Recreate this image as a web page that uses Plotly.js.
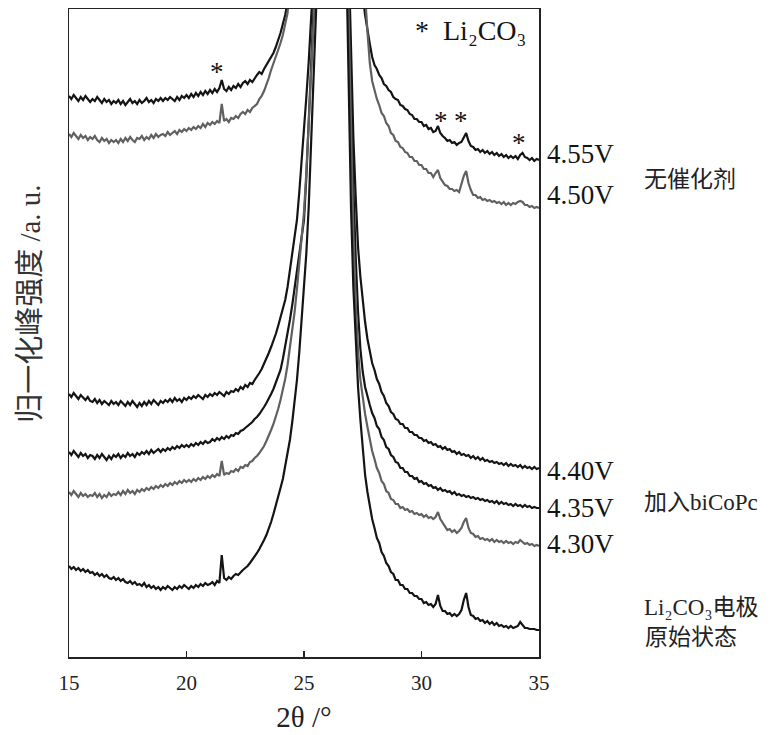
<!DOCTYPE html>
<html>
<head>
<meta charset="utf-8">
<script src="https://cdn.plot.ly/plotly-3.0.1.min.js"></script>
<style>html,body{margin:0;padding:0;background:#fff;}#chart{width:770px;height:735px;}</style>
</head>
<body>
<div id="chart"></div>
<script>
// 2θ (°) sampling grid
const twoTheta = [
15.0,15.1,15.2,15.3,15.4,15.5,15.6,15.7,15.8,15.9,
16.0,16.1,16.2,16.3,16.4,16.5,16.6,16.7,16.8,16.9,
17.0,17.1,17.2,17.3,17.4,17.5,17.6,17.7,17.8,17.9,
18.0,18.1,18.2,18.3,18.4,18.5,18.6,18.7,18.8,18.9,
19.0,19.1,19.2,19.3,19.4,19.5,19.6,19.7,19.8,19.9,
20.0,20.1,20.2,20.3,20.4,20.5,20.6,20.7,20.8,20.9,
21.0,21.1,21.2,21.3,21.4,21.5,21.6,21.7,21.8,21.9,
22.0,22.1,22.2,22.3,22.4,22.5,22.6,22.7,22.8,22.9,
23.0,23.1,23.2,23.3,23.4,23.5,23.6,23.7,23.8,23.9,
24.0,24.1,24.2,24.3,24.4,24.5,24.6,24.7,24.8,24.9,
25.0,25.1,25.2,25.3,25.4,25.5,25.6,25.7,25.8,25.9,
26.0,26.1,26.2,26.3,26.4,26.5,26.6,26.7,26.8,26.9,
27.0,27.1,27.2,27.3,27.4,27.5,27.6,27.7,27.8,27.9,
28.0,28.1,28.2,28.3,28.4,28.5,28.6,28.7,28.8,28.9,
29.0,29.1,29.2,29.3,29.4,29.5,29.6,29.7,29.8,29.9,
30.0,30.1,30.2,30.3,30.4,30.5,30.6,30.7,30.8,30.9,
31.0,31.1,31.2,31.3,31.4,31.5,31.6,31.7,31.8,31.9,
32.0,32.1,32.2,32.3,32.4,32.5,32.6,32.7,32.8,32.9,
33.0,33.1,33.2,33.3,33.4,33.5,33.6,33.7,33.8,33.9,
34.0,34.1,34.2,34.3,34.4,34.5,34.6,34.7,34.8,34.9,
35.0];

// normalised intensities incl. vertical stacking offset (a.u.)
const v455 = [
561,558,562,559,556,560,557,561,558,555,
558,556,560,557,554,558,555,557,553,556,
554,557,553,556,552,555,558,554,556,553,
557,554,556,559,555,557,554,558,556,559,
556,559,557,560,558,556,560,557,561,559,
562,559,563,560,564,561,565,562,566,563,
567,564,568,565,569,577,568,566,570,567,
571,569,573,570,574,576,573,577,575,579,
582,585,583,588,592,596,600,604,610,616,
624,633,642,655,700,800,900,999,999,999,
999,999,999,999,999,999,999,999,999,999,
999,999,999,999,999,999,999,999,999,999,
999,999,999,999,900,662,642,626,613,600,
592,588,582,579,573,571,567,565,560,558,
557,552,551,548,547,543,542,538,538,535,
535,531,532,528,529,525,526,531,524,521,
519,516,517,514,515,512,514,515,520,524,
516,511,510,507,508,505,507,504,506,503,
505,502,504,501,503,500,502,499,501,499,
501,498,502,504,500,499,497,499,496,498,
497];

const v450 = [
523,520,524,521,518,522,519,521,517,520,
518,521,517,515,519,516,518,514,517,515,
517,514,518,515,519,516,520,517,515,519,
518,521,517,520,518,522,519,523,520,522,
523,521,525,522,524,526,523,527,525,528,
526,529,527,530,528,531,529,533,530,534,
532,535,533,536,534,553,536,538,535,539,
538,541,539,543,545,543,547,545,549,551,
553,558,561,566,572,579,587,593,601,607,
614,622,633,644,670,800,999,999,999,999,
999,999,999,999,999,999,999,999,999,999,
999,999,999,999,999,999,999,999,999,999,
999,999,999,999,999,900,662,625,594,576,
566,558,552,544,541,534,531,524,522,516,
515,510,509,505,504,500,500,496,496,492,
492,488,488,484,484,480,484,487,479,475,
472,471,468,468,466,467,465,473,481,486,
474,467,462,462,459,460,457,458,456,457,
455,456,454,455,453,455,452,454,452,454,
453,455,456,455,452,452,450,451,449,450,
449];

const v440 = [
263,260,264,261,258,262,259,257,260,256,
255,258,254,257,253,256,254,252,256,253,
255,252,256,253,251,255,252,256,253,250,
254,251,255,252,256,253,257,254,252,256,
254,257,255,258,255,259,256,258,255,259,
257,260,258,261,259,262,260,258,262,260,
263,261,264,262,265,263,261,265,263,266,
265,268,266,270,268,272,270,274,273,277,
280,284,288,293,298,304,310,316,323,331,
339,347,357,370,386,404,420,437,465,495,
527,560,595,635,680,999,999,999,999,999,
999,999,999,999,999,999,999,999,999,700,
610,520,460,410,380,355,335,318,305,294,
287,278,273,265,261,254,251,245,243,238,
237,233,233,229,229,225,225,222,222,219,
219,216,217,214,215,212,213,210,211,208,
210,207,208,205,206,203,205,202,203,201,
202,199,201,198,200,197,199,196,197,195,
196,194,195,193,194,192,194,191,193,191,
192,190,192,189,191,189,190,188,190,188,
189];

const v435 = [
205,202,206,203,200,204,201,203,199,202,
201,198,202,199,203,200,197,201,198,202,
200,203,199,202,200,204,201,203,200,204,
202,205,203,206,203,207,204,206,208,205,
208,206,209,207,210,208,211,209,212,210,
212,210,213,211,214,212,215,213,216,214,
215,218,216,219,217,220,218,221,219,222,
221,224,223,226,227,229,231,233,235,238,
240,243,246,250,254,258,263,268,274,280,
287,298,310,323,337,352,369,387,403,420,
437,480,530,585,640,700,999,999,999,999,
999,999,999,999,999,999,999,999,999,680,
560,470,400,345,308,285,270,260,252,244,
239,231,228,220,217,210,208,202,200,195,
194,189,189,185,185,181,181,178,179,175,
176,173,174,171,172,169,170,167,169,166,
167,165,166,163,165,162,163,161,162,160,
161,159,160,158,159,157,158,156,157,155,
156,154,156,153,155,153,154,152,153,151,
153,151,152,150,152,150,151,149,150,149,
149];

const v430 = [
165,162,166,163,160,164,161,163,160,162,
161,164,160,163,159,162,160,164,161,163,
162,165,162,166,163,167,164,166,163,167,
165,168,166,169,167,170,168,171,169,172,
170,173,171,174,172,175,173,176,174,177,
175,177,175,178,176,179,177,180,178,181,
179,182,180,183,181,196,182,184,183,186,
185,188,186,190,189,192,191,195,196,199,
201,204,207,211,216,221,227,233,240,248,
257,267,278,292,308,325,345,368,392,418,
445,485,530,580,630,690,999,999,999,999,
999,999,999,999,999,999,999,999,999,640,
520,425,355,306,277,258,243,230,218,206,
198,189,184,176,173,166,164,158,157,153,
153,149,150,147,148,145,146,143,144,142,
143,140,142,139,140,138,140,145,138,134,
131,127,128,125,127,124,126,129,135,139,
129,124,123,120,121,118,119,117,118,116,
118,115,117,115,116,114,116,114,115,113,
115,114,117,115,113,114,112,113,111,112,
111];

const vPristine = [
91,88,90,87,89,86,88,85,87,84,
85,82,84,81,83,80,82,79,78,80,
77,79,76,78,75,74,76,73,75,72,
73,71,74,70,72,69,71,68,70,67,
70,68,71,69,67,70,68,71,69,72,
70,68,71,69,72,70,73,71,74,72,
73,75,72,76,74,102,79,77,80,78,
81,83,82,85,87,89,91,94,97,100,
104,108,112,117,122,128,135,143,151,160,
169,178,190,203,217,235,255,277,305,337,
370,404,450,510,575,640,700,999,999,999,
999,999,999,999,999,999,999,999,700,560,
450,370,315,270,237,210,182,165,150,138,
129,119,114,105,101,94,91,85,83,77,
77,72,72,68,68,64,64,61,61,58,
58,54,55,52,53,50,53,62,51,46,
46,43,44,41,43,41,43,47,57,64,
50,42,41,38,39,36,37,34,36,33,
35,32,34,31,32,30,31,29,31,29,
30,31,35,32,29,29,28,28,28,27,
27];

const seriesNames = ['4.55V', '4.50V', '4.40V', '4.35V', '4.30V', 'Li₂CO₃电极原始状态'];
const seriesValues = [v455, v450, v440, v435, v430, vPristine];
const seriesColors = ['#141414', '#606060', '#141414', '#141414', '#606060', '#141414'];

const xTicks = [15, 20, 25, 30, 35];

// Li2CO3 reflection markers (2θ, intensity)
const starX = [21.3, 30.85, 31.7, 34.15];
const starY = [585, 536, 536, 514];

// right-hand voltage labels (paper y)
const labelTexts = ['4.55V', '4.50V', '4.40V', '4.35V', '4.30V'];
const labelY = [0.776, 0.713, 0.287, 0.230, 0.174];

const serif = '"Liberation Serif", "Times New Roman", serif';
const mixed = '"Liberation Serif", "Noto Sans CJK SC", serif';
const cjk = '"Noto Sans CJK SC", sans-serif';

const traces = seriesValues.map((vals, i) => ({
  type: 'scatter', mode: 'lines', x: twoTheta, y: vals, name: seriesNames[i],
  line: {color: seriesColors[i], width: 2.2}, hoverinfo: 'skip'
}));

const annotations = [];
starX.forEach((x, i) => annotations.push({
  xref: 'x', yref: 'y', x: x, y: starY[i], text: '*', showarrow: false,
  font: {family: serif, size: 27, color: '#141414'}, xanchor: 'center', yanchor: 'middle'
}));
labelTexts.forEach((t, i) => annotations.push({
  xref: 'paper', yref: 'paper', x: 1.013, y: labelY[i], text: t, showarrow: false,
  font: {family: serif, size: 27, color: '#141414'}, xanchor: 'left', yanchor: 'middle'
}));
annotations.push({xref: 'paper', yref: 'paper', x: 1.219, y: 0.741, text: '无催化剂', showarrow: false,
  font: {family: cjk, size: 23, color: '#222'}, xanchor: 'left', yanchor: 'middle'});
annotations.push({xref: 'paper', yref: 'paper', x: 1.219, y: 0.238, text: '加入biCoPc', showarrow: false,
  font: {family: mixed, size: 23, color: '#222'}, xanchor: 'left', yanchor: 'middle'});
annotations.push({xref: 'paper', yref: 'paper', x: 1.219, y: 0.077, text: 'Li₂CO₃电极', showarrow: false,
  font: {family: mixed, size: 23, color: '#222'}, xanchor: 'left', yanchor: 'middle'});
annotations.push({xref: 'paper', yref: 'paper', x: 1.222, y: 0.034, text: '原始状态', showarrow: false,
  font: {family: cjk, size: 23, color: '#222'}, xanchor: 'left', yanchor: 'middle'});
annotations.push({xref: 'paper', yref: 'paper', x: 0.731, y: 0.967, text: '*  Li₂CO₃', showarrow: false,
  font: {family: serif, size: 28, color: '#141414'}, xanchor: 'left', yanchor: 'middle'});
annotations.push({xref: 'paper', yref: 'paper', x: -0.083, y: 0.545, textangle: -90,
  text: '归一化峰强度 /a. u.', showarrow: false,
  font: {family: mixed, size: 29, color: '#333'}, xanchor: 'center', yanchor: 'middle'});

const layout = {
  width: 770, height: 735,
  margin: {l: 69, r: 231, t: 9, b: 78},
  paper_bgcolor: '#fff', plot_bgcolor: '#fff',
  showlegend: false,
  xaxis: {
    range: [15, 35], tickvals: xTicks, ticktext: xTicks.map(String),
    ticks: 'inside', ticklen: 6, tickwidth: 1.5, tickcolor: '#222',
    showline: true, mirror: true, linecolor: '#222', linewidth: 1.5,
    showgrid: false, zeroline: false, ticklabelstandoff: 6,
    tickfont: {family: serif, size: 21, color: '#222'},
    title: {text: '2θ /°', font: {family: serif, size: 29, color: '#222'}, standoff: 13}
  },
  yaxis: {
    range: [0, 648], showticklabels: false, ticks: '',
    showline: true, mirror: true, linecolor: '#222', linewidth: 1.5,
    showgrid: false, zeroline: false
  },
  annotations: annotations
};

Plotly.newPlot('chart', traces, layout, {displayModeBar: false, staticPlot: true});
</script>
</body>
</html>
